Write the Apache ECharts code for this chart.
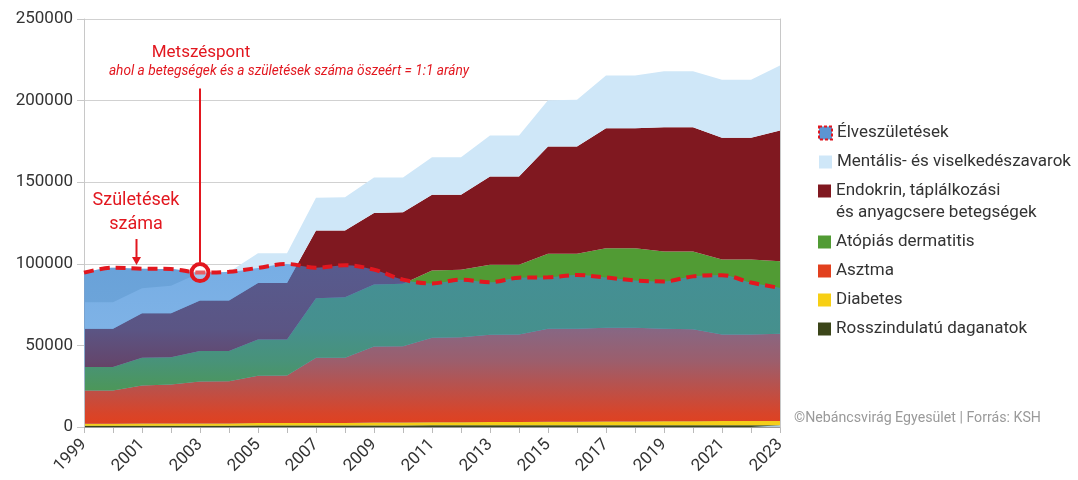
<!DOCTYPE html>
<html>
<head>
<meta charset="utf-8">
<script src="https://cdn.jsdelivr.net/npm/echarts@6.0.0/dist/echarts.min.js"></script>
<style>
    html, body { margin: 0; padding: 0; background: #fff; }
    #areaChart { width: 1078px; height: 480px; }
</style>
</head>
<body>
<div id="areaChart"></div>
<script>
    // évek
    let years = ['1999', '2000', '2001', '2002', '2003', '2004', '2005', '2006', '2007', '2008', '2009', '2010',
        '2011', '2012', '2013', '2014', '2015', '2016', '2017', '2018', '2019', '2020', '2021', '2022', '2023']

    // betegségek (halmozott rétegek, alulról felfelé)
    let rosszindulatu = [800, 800, 800, 800, 800, 800, 900, 900, 900, 900, 900, 900,
        1000, 1000, 1000, 1000, 1000, 1000, 1100, 1100, 1100, 1100, 1100, 1100, 1100]
    let diabetes = [1200, 1200, 1300, 1300, 1400, 1400, 1500, 1500, 1600, 1600, 1800, 1800,
        1900, 1900, 2000, 2000, 2200, 2200, 2300, 2300, 2400, 2400, 2500, 2500, 2500]
    let asztma = [20400, 20400, 23300, 23900, 25700, 25900, 29000, 29200, 39900, 39900, 46600, 46800,
        51800, 52100, 53500, 53700, 57000, 57000, 57400, 57400, 56700, 56400, 53100, 53100, 53500]
    let atopias = [14300, 14300, 17000, 16800, 18600, 18400, 22200, 22000, 36500, 37100, 38000, 38200,
        41200, 41300, 42900, 42700, 45900, 45900, 48800, 48800, 47300, 47600, 45900, 45900, 44500]
    let endokrin = [23500, 23500, 27300, 26900, 31000, 31000, 34700, 34700, 41500, 40900, 43900, 43900,
        46400, 46000, 54100, 54100, 65800, 65700, 73500, 73500, 76200, 76200, 74600, 74600, 80100]
    let mentalis = [16300, 16300, 15300, 16800, 17000, 17500, 18200, 18200, 20000, 20400, 21700, 21300,
        23000, 23000, 25100, 25100, 28300, 28700, 32300, 32300, 34300, 34300, 35500, 35500, 39800]

    // élveszületések
    let szuletesek = [94600, 97600, 97000, 96800, 94600, 95100, 97500, 99900, 97600, 99100, 96400, 90300,
        88000, 90300, 88700, 91500, 91700, 93100, 91600, 89800, 89200, 92300, 93000, 88500, 85200]

    let legendTop = ['Élveszületések', 'Mentális- és viselkedészavarok']
    let legendBottom = ['Endokrin, táplálkozási és anyagcsere betegségek', 'Atópiás dermatitis', 'Asztma',
        'Diabetes', 'Rosszindulatú daganatok']

    let red = '#e2171f'
    let font = 'Roboto'

    function stackSeries(name, color, data) {
        return {
            name: name,
            type: 'line',
            stack: 'betegseg',
            color: color,
            symbol: 'none',
            lineStyle: { width: 0 },
            areaStyle: { color: color, opacity: 1 },
            emphasis: { disabled: true },
            data: data
        }
    }

    let myChart = echarts.init(document.getElementById('areaChart'))
    let legendText = { fontFamily: font, fontSize: 17, color: '#333', lineHeight: 22 }
    let options = {
        animation: false,
        textStyle: { fontFamily: font },
        grid: { left: 84, right: 298, top: 19, bottom: 53 },
        legend: [{
            orient: 'vertical',
            left: 818,
            top: 122,
            padding: 0,
            itemGap: 7,
            itemWidth: 13,
            itemHeight: 13,
            selectedMode: false,
            icon: 'rect',
            textStyle: legendText,
            itemStyle: { borderWidth: 0 },
            data: [{
                name: legendTop[0],
                itemStyle: { color: '#5c95d2', borderColor: red, borderWidth: 2, borderType: [3, 2] }
            }, legendTop[1]]
        }, {
            orient: 'vertical',
            left: 818,
            top: 158,
            padding: 0,
            itemGap: 7,
            itemWidth: 13,
            itemHeight: 13,
            selectedMode: false,
            icon: 'rect',
            textStyle: legendText,
            itemStyle: { borderWidth: 0 },
            formatter: function (name) {
                // két soros felirat, az ikon az első sorhoz igazodjon
                if (name.indexOf('Endokrin') === 0) {
                    return '\u00a0\n' + name.replace(' és anyagcsere', '\nés anyagcsere')
                }
                return name
            },
            data: legendBottom
        }],
        xAxis: {
            type: 'category',
            boundaryGap: false,
            data: years,
            axisLine: { lineStyle: { color: '#bbb' } },
            axisTick: { interval: 0, length: 6, lineStyle: { color: '#bbb' } },
            axisLabel: { interval: 1, rotate: 45, fontSize: 17, color: '#333', margin: 15, fontFamily: font }
        },
        yAxis: [{
            type: 'value',
            min: 0,
            max: 250000,
            interval: 50000,
            z: 3,
            axisLine: { show: true, lineStyle: { color: '#c8c8c8' } },
            axisTick: { show: true, length: 7, lineStyle: { color: '#c8c8c8' } },
            axisLabel: {
                fontSize: 17, color: '#333', margin: 11, fontFamily: font,
                formatter: function (v) { return String(v) }
            },
            splitLine: { lineStyle: { color: 'rgba(0,0,0,0.18)' } }
        }, {
            type: 'value',
            position: 'right',
            min: 0,
            max: 250000,
            interval: 50000,
            z: 3,
            axisLine: { show: true, lineStyle: { color: '#c8c8c8' } },
            axisTick: { show: false },
            axisLabel: { show: false },
            splitLine: { show: false }
        }],
        series: [
            {
                // születések alapszíne a betegségek mögött
                name: 'Élveszületések',
                type: 'line',
                smooth: 0.35,
                symbol: 'none',
                silent: true,
                lineStyle: { width: 0 },
                areaStyle: { color: '#accadc', opacity: 1 },
                emphasis: { disabled: true },
                data: szuletesek
            },
            stackSeries('Rosszindulatú daganatok', '#3b4519', rosszindulatu),
            stackSeries('Diabetes', '#f7cf14', diabetes),
            stackSeries('Asztma', '#e2401e', asztma),
            stackSeries('Atópiás dermatitis', '#519b34', atopias),
            stackSeries('Endokrin, táplálkozási és anyagcsere betegségek', '#801820', endokrin),
            stackSeries('Mentális- és viselkedészavarok', '#cfe7f8', mentalis),
            {
                name: 'Élveszületések',
                type: 'line',
                smooth: 0.35,
                symbol: 'none',
                color: red,
                z: 4,
                emphasis: { disabled: true },
                lineStyle: { color: red, width: 4, type: [10, 6] },
                areaStyle: {
                    opacity: 1,
                    color: new echarts.graphic.LinearGradient(0, 0, 0, 1, [
                        { offset: 0, color: 'rgba(60, 135, 215, 0.6)' },
                        { offset: 0.4, color: 'rgba(60, 135, 215, 0.55)' },
                        { offset: 0.6, color: 'rgba(60, 135, 215, 0.42)' },
                        { offset: 0.78, color: 'rgba(60, 135, 215, 0.22)' },
                        { offset: 0.92, color: 'rgba(60, 135, 215, 0.06)' },
                        { offset: 1, color: 'rgba(60, 135, 215, 0)' }
                    ])
                },
                markLine: {
                    silent: true,
                    symbol: 'none',
                    label: { show: false },
                    lineStyle: { color: red, width: 2, type: 'solid' },
                    data: [[{ coord: ['2003', 207400] }, { coord: ['2003', 101000] }]]
                },
                markPoint: {
                    silent: true,
                    symbol: 'circle',
                    symbolSize: 17,
                    label: { show: false },
                    itemStyle: { color: 'rgba(255,255,255,0.3)', borderColor: red, borderWidth: 4 },
                    data: [{ coord: ['2003', 94600] }]
                },
                data: szuletesek
            }
        ],
        graphic: [
            {
                type: 'text', x: 201, y: 53,
                style: { text: 'Metszéspont', fontSize: 17, fill: red, align: 'center', verticalAlign: 'middle', fontFamily: font }
            },
            {
                type: 'text', x: 289, y: 72,
                style: {
                    text: 'ahol a betegségek és a születések száma öszeért = 1:1 arány',
                    fontSize: 13.7, fontStyle: 'italic', fill: red, align: 'center', verticalAlign: 'middle', fontFamily: font
                }
            },
            {
                type: 'text', x: 136, y: 212,
                style: { text: 'Születések\nszáma', fontSize: 18, lineHeight: 24, fill: red, align: 'center', verticalAlign: 'middle', fontFamily: font }
            },
            { type: 'line', shape: { x1: 136.5, y1: 239, x2: 136.5, y2: 262 }, style: { stroke: red, lineWidth: 2 } },
            { type: 'polygon', shape: { points: [[132, 257], [141, 257], [136.5, 265]] }, style: { fill: red } },
            {
                type: 'text', x: 794, y: 418,
                style: { text: '©Nebáncsvirág Egyesület | Forrás: KSH', fontSize: 14.2, fill: '#9a9a9a', verticalAlign: 'middle', fontFamily: font }
            }
        ]
    }
    myChart.setOption(options)
</script>
</body>
</html>
